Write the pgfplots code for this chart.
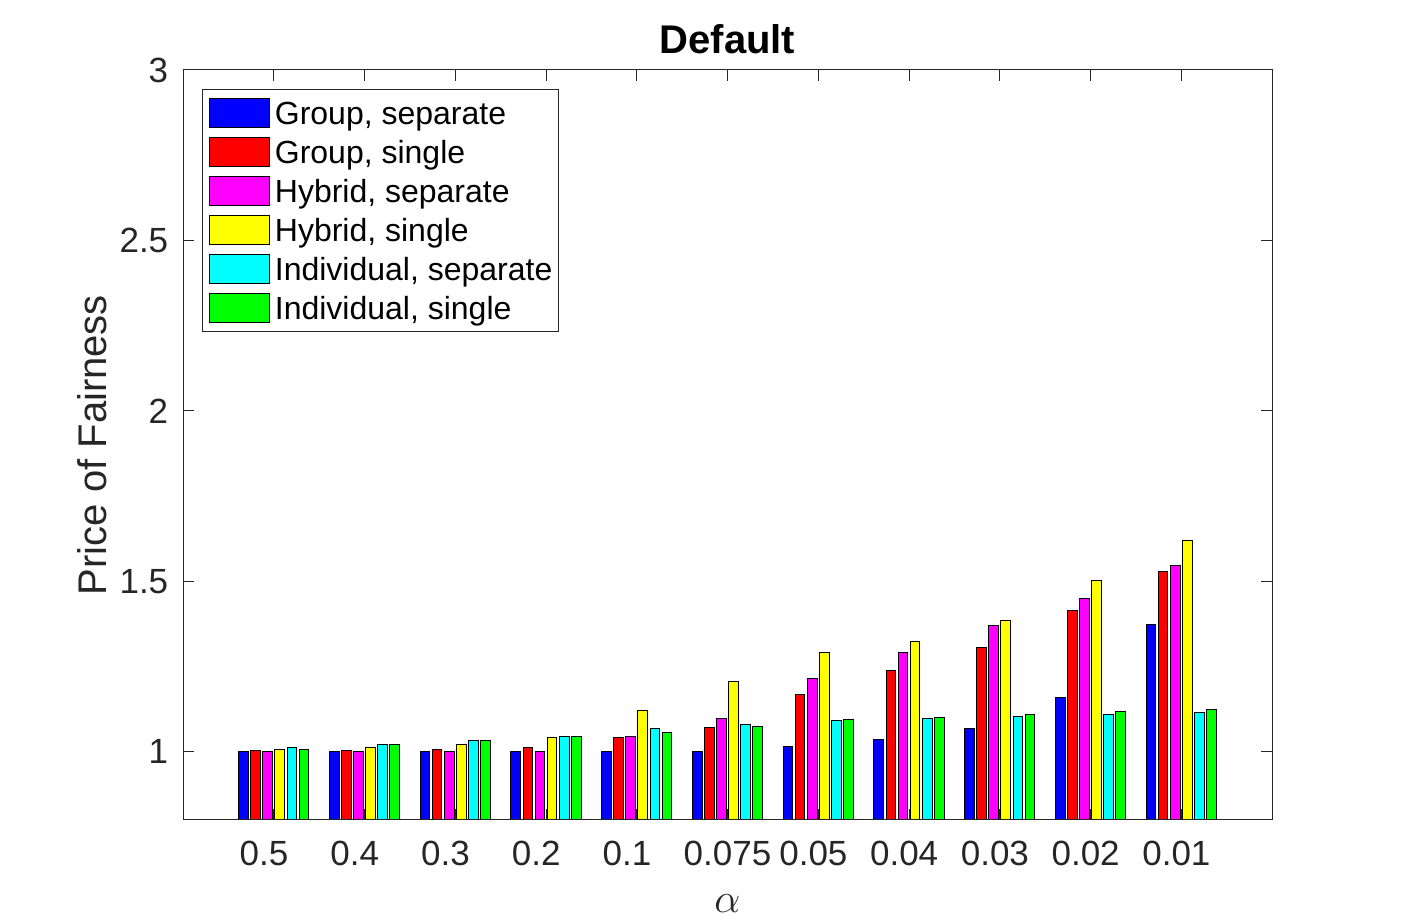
\documentclass[border=0pt]{standalone}
\usepackage{pgfplots}
\pgfplotsset{compat=1.18}
\usepackage{fontspec}
\setmainfont{Liberation Sans}
\definecolor{axgray}{RGB}{38,38,38}
\definecolor{mblue}{RGB}{0,0,255}
\definecolor{mred}{RGB}{255,0,0}
\definecolor{mmagenta}{RGB}{255,0,255}
\definecolor{myellow}{RGB}{255,255,0}
\definecolor{mcyan}{RGB}{0,255,255}
\definecolor{mgreen}{RGB}{0,255,0}
\pgfplotsset{
  mybar/.style={ybar, bar width=0.107, draw=black, line width=0.5pt,
    legend image code/.code={\draw[##1, line width=0.5pt, draw=black] (0pt,-7.35pt) rectangle (30pt,7.35pt);}},
}
\begin{document}
\begin{tikzpicture}
\useasboundingbox (-91.5pt,-52pt) rectangle (611.5pt,410pt);
\begin{axis}[
  scale only axis, width=544.5pt, height=375pt,
  xmin=0, xmax=12, ymin=0.8, ymax=3,
  xtick={1,2,3,4,5,6,7,8,9,10,11},
  xticklabels={0.5\kern0.556em,0.4\kern0.556em,0.3\kern0.556em,0.2\kern0.556em,0.1\kern0.556em,0.075,0.05\kern0.278em,0.04\kern0.278em,0.03\kern0.278em,0.02\kern0.278em,0.01\kern0.278em},
  ytick={1,1.5,2,2.5,3},
  tick align=inside, major tick length=5.3pt,
  axis line style={axgray, line width=0.5pt},
  every tick/.style={axgray, line width=0.5pt},
  tick label style={font=\fontsize{17.5}{21}\selectfont, text=axgray},
  /pgf/number format/assume math mode=true,
  xticklabel style={anchor=north, inner sep=0pt, yshift=-10.5pt},
  yticklabel style={anchor=east, inner sep=0pt, xshift=-7.2pt},
  axis on top,
  title={Default},
  title style={at={(axis description cs:0.5,1)}, anchor=base, yshift=2pt, font=\fontsize{20}{24}\selectfont\bfseries},
  xlabel={$\alpha$},
  xlabel style={at={(axis description cs:0.5,-0.112)}, anchor=center, font=\fontsize{20}{24}\selectfont, text=axgray},
  ylabel={Price of Fairness},
  ylabel style={at={(axis description cs:-0.0701,0.5)}, rotate=0, anchor=base, font=\fontsize{20}{24}\selectfont, text=axgray},
  legend cell align=left,
  legend style={at={(axis description cs:0,1)}, anchor=north west, xshift=9.5pt, yshift=-9.5pt,
    draw=axgray, line width=0.5pt, inner xsep=3.2pt, inner ysep=4.2pt, row sep=4.3pt, column sep=2.5pt,
    font=\fontsize{16}{19.2}\selectfont, nodes={inner sep=0pt, text height=11.5pt, text depth=0pt}},
]
\addplot[mybar, fill=mblue, bar shift=-0.3333] coordinates {(1,1.000) (2,1.000) (3,1.000) (4,1.000) (5,1.000) (6,1.000) (7,1.015) (8,1.035) (9,1.067) (10,1.159) (11,1.373)};
\addlegendentry{Group, separate}
\addplot[mybar, fill=mred, bar shift=-0.2] coordinates {(1,1.003) (2,1.003) (3,1.006) (4,1.012) (5,1.041) (6,1.070) (7,1.167) (8,1.238) (9,1.305) (10,1.414) (11,1.529)};
\addlegendentry{Group, single}
\addplot[mybar, fill=mmagenta, bar shift=-0.0667] coordinates {(1,1.000) (2,1.000) (3,1.000) (4,1.000) (5,1.044) (6,1.097) (7,1.214) (8,1.291) (9,1.370) (10,1.449) (11,1.546)};
\addlegendentry{Hybrid, separate}
\addplot[mybar, fill=myellow, bar shift=0.0667] coordinates {(1,1.006) (2,1.012) (3,1.021) (4,1.041) (5,1.120) (6,1.205) (7,1.291) (8,1.323) (9,1.385) (10,1.502) (11,1.620)};
\addlegendentry{Hybrid, single}
\addplot[mybar, fill=mcyan, bar shift=0.2] coordinates {(1,1.012) (2,1.021) (3,1.032) (4,1.044) (5,1.067) (6,1.079) (7,1.091) (8,1.097) (9,1.103) (10,1.109) (11,1.114)};
\addlegendentry{Individual, separate}
\addplot[mybar, fill=mgreen, bar shift=0.3333] coordinates {(1,1.006) (2,1.021) (3,1.032) (4,1.044) (5,1.056) (6,1.073) (7,1.094) (8,1.100) (9,1.109) (10,1.117) (11,1.123)};
\addlegendentry{Individual, single}
\end{axis}
\end{tikzpicture}
\end{document}
